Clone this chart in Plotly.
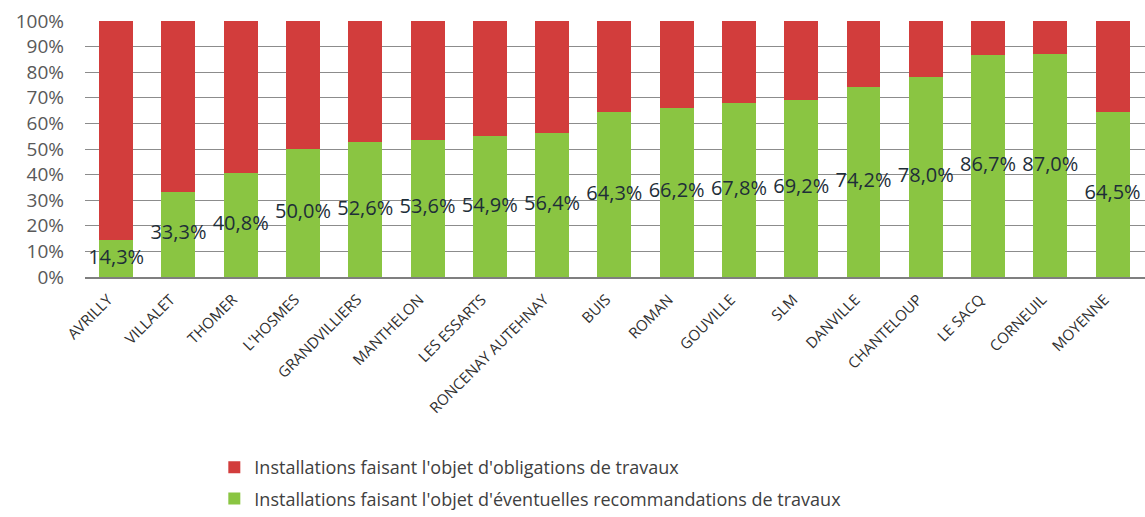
import plotly.graph_objects as go

communes = ["AVRILLY", "VILLALET", "THOMER", "L'HOSMES", "GRANDVILLIERS", "MANTHELON",
            "LES ESSARTS", "RONCENAY AUTEHNAY", "BUIS", "ROMAN", "GOUVILLE", "SLM",
            "DANVILLE", "CHANTELOUP", "LE SACQ", "CORNEUIL", "MOYENNE"]
recommandations = [14.3, 33.3, 40.8, 50.0, 52.6, 53.6, 54.9, 56.4, 64.3, 66.2, 67.8,
                   69.2, 74.2, 78.0, 86.7, 87.0, 64.5]
obligations = [round(100 - v, 1) for v in recommandations]

RED = "#D23D3C"
GREEN = "#8AC542"
FONT = "Open Sans"

fig = go.Figure()
fig.add_trace(go.Bar(
    x=communes, y=recommandations, name="Installations faisant l'objet d'éventuelles recommandations de travaux",
    marker=dict(color=GREEN, line=dict(width=0)), legendgroup="b", legendrank=2,
))
fig.add_trace(go.Bar(
    x=communes, y=obligations, name="Installations faisant l'objet d'obligations de travaux",
    marker=dict(color=RED, line=dict(width=0)), legendgroup="a", legendrank=1,
))
# value labels centred on the green segment
fig.add_trace(go.Scatter(
    x=communes, y=[v / 2 for v in recommandations], mode="text",
    text=[f"{v:.1f}%".replace(".", ",") for v in recommandations],
    textfont=dict(family=FONT, size=20, color="#1E2E38"),
    showlegend=False, hoverinfo="skip", cliponaxis=False,
))

fig.update_layout(
    width=1145, height=517,
    barmode="stack", bargap=0.455,
    plot_bgcolor="white", paper_bgcolor="white",
    margin=dict(l=85, r=0, t=21, b=240),
    font=dict(family=FONT, color="#404040"),
    legend=dict(
        x=0.122, y=-0.672, xanchor="left", yanchor="top",
        orientation="v", traceorder="grouped", tracegroupgap=5,
        font=dict(family=FONT, size=18, color="#404040"),
        itemwidth=30,
    ),
    showlegend=True,
)
fig.update_xaxes(
    tickangle=-45, tickfont=dict(family=FONT, size=15, color="#303030"),
    showline=True, linecolor="#7F7F7F", linewidth=2, showgrid=False,
    ticks="", range=[-0.5, 16.52], ticklabelshift=-8, ticklabelstandoff=6,
)
fig.update_yaxes(
    range=[0, 100], tickvals=list(range(0, 101, 10)),
    ticktext=[f"{v}%" for v in range(0, 101, 10)],
    tickfont=dict(family=FONT, size=19, color="#595959"),
    showgrid=True, gridcolor="#8C8C8C", gridwidth=1,
    zeroline=False, ticklabelstandoff=20,
)

fig.write_html("out.html")
